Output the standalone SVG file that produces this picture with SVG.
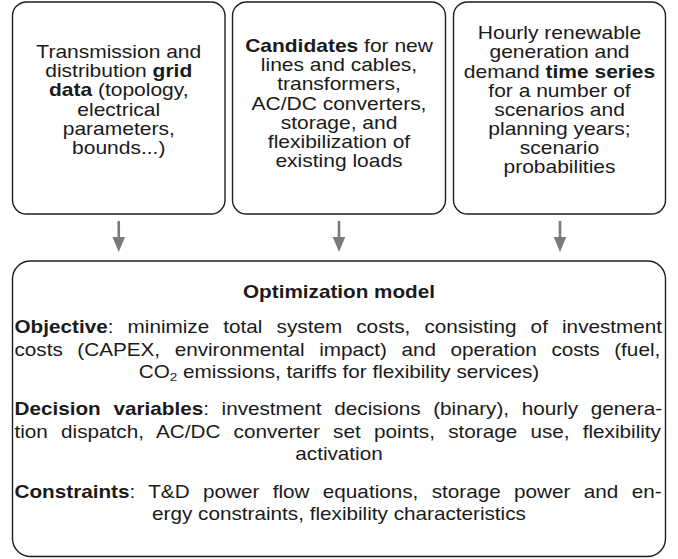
<svg xmlns="http://www.w3.org/2000/svg" width="678" height="559" viewBox="0 0 678 559">
<defs>
<style>
.box{fill:#fff;stroke:#1e1e1e;stroke-width:1.4}
.t{font-family:"Liberation Sans",Arial,Helvetica,sans-serif;font-size:17.5px;fill:#1a1a1a;text-anchor:middle}
.b{font-weight:bold}
.m{font-family:"Liberation Sans",Arial,Helvetica,sans-serif;font-size:17.7px;fill:#1a1a1a}
.c{text-anchor:middle}
.arr{stroke:#7a7a7a;stroke-width:2.6;fill:none}
.head{fill:#7a7a7a}
</style>
</defs>
<rect width="678" height="559" fill="#fff"/>
<g id="node-grid">
<rect class="box" x="12.5" y="2" width="212.5" height="212" rx="14"/>
<text class="t" transform="translate(118.75,58) scale(1.2,1)">Transmission and</text>
<text class="t" transform="translate(118.75,77) scale(1.2,1)">distribution <tspan class="b">grid</tspan></text>
<text class="t" transform="translate(118.75,96) scale(1.2,1)"><tspan class="b">data</tspan> (topology,</text>
<text class="t" transform="translate(118.75,116) scale(1.2,1)">electrical</text>
<text class="t" transform="translate(118.75,135) scale(1.2,1)">parameters,</text>
<text class="t" transform="translate(118.75,154) scale(1.2,1)">bounds...)</text>
</g>
<g id="node-candidates">
<rect class="box" x="232.5" y="2" width="213" height="212" rx="14"/>
<text class="t" transform="translate(339,52) scale(1.2,1)"><tspan class="b">Candidates</tspan> for new</text>
<text class="t" transform="translate(339,71) scale(1.2,1)">lines and cables,</text>
<text class="t" transform="translate(339,90) scale(1.2,1)">transformers,</text>
<text class="t" transform="translate(339,110) scale(1.2,1)">AC/DC converters,</text>
<text class="t" transform="translate(339,129) scale(1.2,1)">storage, and</text>
<text class="t" transform="translate(339,148) scale(1.2,1)">flexibilization of</text>
<text class="t" transform="translate(339,167) scale(1.2,1)">existing loads</text>
</g>
<g id="node-timeseries">
<rect class="box" x="453.5" y="2" width="212" height="212" rx="14"/>
<text class="t" transform="translate(559.5,39) scale(1.2,1)">Hourly renewable</text>
<text class="t" transform="translate(559.5,58) scale(1.2,1)">generation and</text>
<text class="t" transform="translate(559.5,78) scale(1.2,1)">demand <tspan class="b">time series</tspan></text>
<text class="t" transform="translate(559.5,97) scale(1.2,1)">for a number of</text>
<text class="t" transform="translate(559.5,116) scale(1.2,1)">scenarios and</text>
<text class="t" transform="translate(559.5,135) scale(1.2,1)">planning years;</text>
<text class="t" transform="translate(559.5,154) scale(1.2,1)">scenario</text>
<text class="t" transform="translate(559.5,173) scale(1.2,1)">probabilities</text>
</g>
<g id="connectors">
<line class="arr" x1="118.75" y1="221" x2="118.75" y2="239"/>
<polygon class="head" points="112.5,237 125,237 118.75,252"/>
<line class="arr" x1="339" y1="221" x2="339" y2="239"/>
<polygon class="head" points="332.75,237 345.25,237 339,252"/>
<line class="arr" x1="560" y1="221" x2="560" y2="239"/>
<polygon class="head" points="553.75,237 566.25,237 560,252"/>
</g>
<g id="node-model">
<rect class="box" x="12.5" y="261" width="653" height="295.5" rx="18"/>
<text class="m b c" transform="translate(339,298) scale(1.17,1)">Optimization model</text>
<text class="m" transform="translate(14.5,333) scale(1.17,1)" word-spacing="7.17"><tspan class="b">Objective</tspan>: minimize total system costs, consisting of investment</text>
<text class="m" transform="translate(14.5,356) scale(1.17,1)" word-spacing="7.5">costs (CAPEX, environmental impact) and operation costs (fuel,</text>
<text class="m c" transform="translate(339,378) scale(1.17,1)">CO<tspan font-size="11.5" dy="3">2</tspan><tspan dy="-3"> emissions, tariffs for flexibility services)</tspan></text>
<text class="m" transform="translate(14.5,415) scale(1.17,1)" word-spacing="5.9"><tspan class="b">Decision variables</tspan>: investment decisions (binary), hourly genera-</text>
<text class="m" transform="translate(14.5,438) scale(1.17,1)" word-spacing="6.39">tion dispatch, AC/DC converter set points, storage use, flexibility</text>
<text class="m c" transform="translate(339,460) scale(1.17,1)">activation</text>
<text class="m" transform="translate(14.5,498) scale(1.17,1)" word-spacing="6.5"><tspan class="b">Constraints</tspan>: T&amp;D power flow equations, storage power and en-</text>
<text class="m c" transform="translate(339,520) scale(1.17,1)">ergy constraints, flexibility characteristics</text>
</g>
</svg>
